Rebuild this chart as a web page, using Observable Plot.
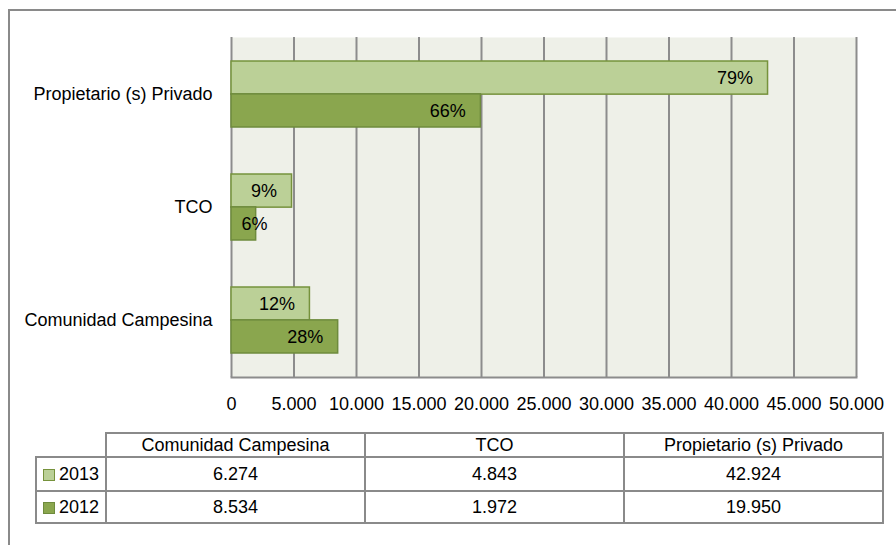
<!DOCTYPE html>
<html><head><meta charset="utf-8">
<script src="https://cdn.jsdelivr.net/npm/d3@7"></script>
<script src="https://cdn.jsdelivr.net/npm/@observablehq/plot@0.6"></script>
<style>
body{margin:0;background:#fff;font-family:"Liberation Sans",Arial,sans-serif;color:#000;}
#wrap{position:relative;width:896px;height:545px;overflow:hidden;}
#frame{position:absolute;left:8px;top:9px;width:1000px;height:1000px;border-left:2px solid #8a8a8a;border-top:2px solid #8a8a8a;}
#chart{position:absolute;left:0;top:0;}
#tbl{position:absolute;left:35px;top:432px;border-collapse:collapse;font-size:18px;table-layout:fixed;}
#tbl td{border:2px solid #8a8a8a;text-align:center;padding:0;white-space:nowrap;}
#tbl td.blank{border:none;}
#tbl td.leg{text-align:left;padding-left:6px;}
.sw{display:inline-block;width:10px;height:10px;border:1px solid #76923C;margin-right:4px;vertical-align:-1px;}
</style></head>
<body>
<div id="wrap"><div id="frame"></div><div id="chart"></div></div>
<script>
const categories = ["Propietario (s) Privado", "TCO", "Comunidad Campesina"];
const years = ["2013", "2012"];
const values2013 = [42924, 4843, 6274];
const values2012 = [19950, 1972, 8534];
const pct2013 = ["79%", "9%", "12%"];
const pct2012 = ["66%", "6%", "28%"];
const xTicks = [0, 5000, 10000, 15000, 20000, 25000, 30000, 35000, 40000, 45000, 50000];
const tableCategories = ["Comunidad Campesina", "TCO", "Propietario (s) Privado"];
const colors = {"2013": "#BBD097", "2012": "#8AA64E"};
const strokes = {"2013": "#76923C", "2012": "#6E8B3D"};

const loc = d3.formatLocale({decimal: ",", thousands: ".", grouping: [3], currency: ["", ""]});
const fmt = loc.format(",d");

const data = categories.flatMap((c, i) => [
  {cat: c, year: "2013", value: values2013[i], pct: pct2013[i]},
  {cat: c, year: "2012", value: values2012[i], pct: pct2012[i]}
]);

const W = 896, H = 425, mT = 37, mB = 48, mL = 231, mR = 40;
const pIn = 0.42, pOut = 0.21;
const yb = d3.scaleBand(categories, [mT, H - mB]).paddingInner(pIn).paddingOuter(pOut);
const half = yb.bandwidth() / 2;
const small = d => d.value < 3000;

const chart = Plot.plot({
  width: W, height: H,
  marginLeft: mL, marginRight: mR, marginTop: mT, marginBottom: mB,
  style: {fontFamily: "Liberation Sans, Arial, sans-serif", fontSize: "18px", color: "#000", background: "transparent", overflow: "visible"},
  x: {domain: [0, 50000], label: null},
  y: {domain: categories, paddingInner: pIn, paddingOuter: pOut, label: null},
  marks: [
    Plot.frame({fill: "#EEF0E8", stroke: null}),
    Plot.ruleX(xTicks, {stroke: "#8c8c8c", strokeWidth: 2}),
    Plot.frame({anchor: "bottom", stroke: "#8c8c8c", strokeWidth: 2}),
    Plot.barX(data.filter(d => d.year === "2013"), {x: "value", y: "cat", fill: colors["2013"], stroke: strokes["2013"], strokeWidth: 1.5, insetBottom: half}),
    Plot.barX(data.filter(d => d.year === "2012"), {x: "value", y: "cat", fill: colors["2012"], stroke: strokes["2012"], strokeWidth: 1.5, insetTop: half}),
    ...years.flatMap(yr => {
      const dy = yr === "2013" ? -half / 2 : half / 2;
      const rows = data.filter(d => d.year === yr);
      return [
        Plot.text(rows.filter(d => !small(d)), {x: "value", y: "cat", text: "pct", textAnchor: "end", dx: -15, dy, fill: "#000"}),
        Plot.text(rows.filter(small), {x: () => 0, y: "cat", text: "pct", textAnchor: "start", dx: 10, dy, fill: "#000"})
      ];
    }),
    Plot.axisX({ticks: xTicks, tickSize: 0, tickPadding: 20, tickFormat: d => fmt(d), label: null}),
    Plot.axisY({tickSize: 0, tickPadding: 19, label: null})
  ]
});
document.getElementById("chart").appendChild(chart);

// data table
const tbl = d3.select("#wrap").append("table").attr("id", "tbl");
const colW = [70, 259, 259, 259];
const cg = tbl.append("colgroup");
colW.forEach(w => cg.append("col").style("width", w + "px"));
const hr = tbl.append("tr").style("height", "24px");
hr.append("td").attr("class", "blank");
tableCategories.forEach(c => hr.append("td").text(c));
const byYear = {"2013": values2013, "2012": values2012};
years.forEach((yr, k) => {
  const tr = tbl.append("tr").style("height", k === 0 ? "34px" : "32px");
  const lc = tr.append("td").attr("class", "leg");
  lc.append("span").attr("class", "sw").style("background", colors[yr]).style("border-color", strokes[yr]);
  lc.append("span").text(yr);
  tableCategories.forEach(c => {
    const i = categories.indexOf(c);
    tr.append("td").text(fmt(byYear[yr][i]));
  });
});
</script>
</body></html>
